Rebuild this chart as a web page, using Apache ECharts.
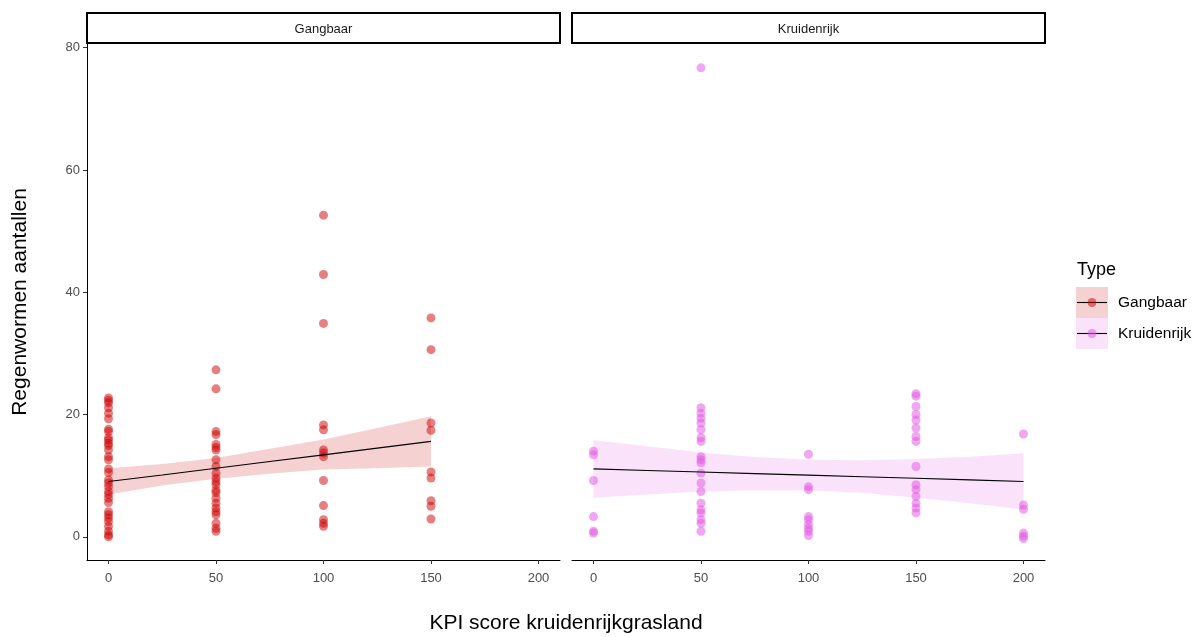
<!DOCTYPE html>
<html>
<head>
<meta charset="utf-8">
<script src="https://cdn.jsdelivr.net/npm/echarts@6/dist/echarts.min.js"></script>
<style>
  html, body { margin: 0; padding: 0; background: #ffffff; }
  #chart { width: 1203px; height: 637px; }
</style>
</head>
<body>
<div id="chart"></div>
<script>
// ---- data -------------------------------------------------------------
const kpiTicks = [0, 50, 100, 150, 200];
const countTicks = [0, 20, 40, 60, 80];

// Gangbaar: earthworm counts per KPI score
const gangbaarKpi0 = [22.7, 22.3, 21.9, 21.1, 20.2, 19.3, 17.6, 17.2, 16.2, 15.8, 15.3, 14.9, 14.2, 13.1, 12.6, 11.1,
                      10.5, 9.3, 8.8, 8.2, 7.4, 6.9, 6.3, 5.6, 4.1, 3.6, 3.1, 2.5, 1.7, 0.9, 0.3, 0.0];
const gangbaarKpi50 = [27.3, 24.2, 17.2, 16.7, 15.1, 14.6, 14.2, 12.6, 11.5, 10.4, 9.6, 9.0, 8.5, 7.6, 7.2, 6.3,
                       5.5, 4.7, 4.1, 3.6, 2.2, 1.4, 0.9];
const gangbaarKpi100 = [52.6, 42.9, 34.9, 18.3, 17.5, 14.2, 13.7, 13.1, 9.2, 5.1, 2.8, 2.2, 1.7];
const gangbaarKpi150 = [35.8, 30.6, 18.6, 17.4, 10.6, 9.6, 5.9, 5.0, 2.9];

// Kruidenrijk: earthworm counts per KPI score
const kruidenrijkKpi0 = [14.0, 13.4, 9.2, 3.3, 0.9, 0.6];
const kruidenrijkKpi50 = [76.7, 21.1, 20.2, 19.4, 18.6, 17.5, 16.2, 15.6, 13.1, 12.6, 12.1, 10.4, 8.8, 7.4, 5.5,
                          4.4, 3.9, 2.8, 2.2, 0.9];
const kruidenrijkKpi100 = [13.5, 8.2, 7.7, 3.3, 2.8, 2.0, 1.4, 0.9, 0.2];
const kruidenrijkKpi150 = [23.4, 23.0, 21.3, 20.0, 19.1, 17.8, 16.4, 15.6, 11.5, 8.5, 7.7, 6.6, 5.5, 4.7, 3.9];
const kruidenrijkKpi200 = [16.8, 5.2, 4.5, 0.6, 0.1, -0.3];

// Linear fits with 95% confidence band
const gangbaarFitX = [0, 25, 50, 75, 100, 125, 150];
const gangbaarFit = [9.05, 10.1, 11.2, 12.3, 13.4, 14.5, 15.6];
const gangbaarLower = [6.9, 8.4, 9.5, 10.3, 11.0, 11.2, 11.5];
const gangbaarUpper = [11.2, 11.9, 12.9, 14.4, 15.9, 17.8, 19.7];

const kruidenrijkFitX = [0, 25, 50, 75, 100, 125, 150, 175, 200];
const kruidenrijkFit = [11.1, 10.84, 10.59, 10.33, 10.08, 9.82, 9.56, 9.31, 9.05];
const kruidenrijkLower = [6.4, 6.9, 7.4, 7.6, 7.6, 7.2, 6.4, 5.5, 4.45];
const kruidenrijkUpper = [15.8, 14.8, 13.8, 13.05, 12.6, 12.5, 12.7, 13.1, 13.65];

// ---- styling ------------------------------------------------------------
const FONT = '"Liberation Sans", Arial, Helvetica, sans-serif';
const RED = '#CD0000';
const VIOLET = '#E35DE3';
const PANEL_TOP = 44, PANEL_H = 516, PANEL_W = 473;
const LEFT_X = 87, RIGHT_X = 572;

function pairs(kpi, values) {
  return values.map(v => [kpi, v]);
}

function scatter(idx, name, color, opacity, groups) {
  let data = [];
  groups.forEach(g => { data = data.concat(pairs(g[0], g[1])); });
  return {
    type: 'scatter', name: name, xAxisIndex: idx, yAxisIndex: idx,
    data: data, symbol: 'circle', symbolSize: 9, z: 2, silent: true,
    itemStyle: { color: color, opacity: opacity }
  };
}

function band(idx, xs, lo, hi, color) {
  return {
    type: 'custom', xAxisIndex: idx, yAxisIndex: idx, z: 3, silent: true,
    data: xs.map((x, i) => [x, lo[i], hi[i]]),
    encode: { x: 0, y: [1, 2] },
    renderItem: function (params, api) {
      if (params.dataIndex !== 0) return null;
      const top = xs.map((x, i) => api.coord([x, hi[i]]));
      const bottom = xs.map((x, i) => api.coord([x, lo[i]])).reverse();
      return {
        type: 'polygon',
        shape: { points: top.concat(bottom) },
        style: { fill: color, opacity: 0.18 }
      };
    }
  };
}

function fitLine(idx, xs, ys) {
  return {
    type: 'line', xAxisIndex: idx, yAxisIndex: idx, z: 4, silent: true,
    data: xs.map((x, i) => [x, ys[i]]),
    showSymbol: false, symbol: 'none',
    lineStyle: { color: '#000000', width: 1.1 }
  };
}

function xAxis(idx) {
  return {
    gridIndex: idx, type: 'value', min: -10, max: 210,
    splitLine: { show: false },
    axisLine: { show: true, onZero: false, lineStyle: { color: '#000000', width: 1 } },
    axisTick: { show: true, length: 4, customValues: kpiTicks, lineStyle: { color: '#333333' } },
    axisLabel: { customValues: kpiTicks, color: '#4D4D4D', fontSize: 13, margin: 12, fontFamily: FONT }
  };
}

const option = {
  animation: false,
  backgroundColor: '#ffffff',
  textStyle: { fontFamily: FONT },
  grid: [
    { left: LEFT_X, top: PANEL_TOP, width: PANEL_W, height: PANEL_H },
    { left: RIGHT_X, top: PANEL_TOP, width: PANEL_W, height: PANEL_H }
  ],
  xAxis: [xAxis(0), xAxis(1)],
  yAxis: [
    {
      gridIndex: 0, type: 'value', min: -3.8, max: 80.6,
      splitLine: { show: false },
      axisLine: { show: true, onZero: false, lineStyle: { color: '#000000', width: 1 } },
      axisTick: { show: true, length: 4, customValues: countTicks, lineStyle: { color: '#333333' } },
      axisLabel: { customValues: countTicks, color: '#4D4D4D', fontSize: 13, margin: 7, fontFamily: FONT },
      name: 'Regenwormen aantallen', nameLocation: 'middle', nameGap: 56,
      nameTextStyle: { color: '#000000', fontSize: 21, fontFamily: FONT }
    },
    {
      gridIndex: 1, type: 'value', min: -3.8, max: 80.6,
      axisLine: { show: false }, axisTick: { show: false },
      axisLabel: { show: false }, splitLine: { show: false }
    }
  ],
  series: [
    scatter(0, 'Gangbaar', RED, 0.5, [[0, gangbaarKpi0], [50, gangbaarKpi50], [100, gangbaarKpi100], [150, gangbaarKpi150]]),
    scatter(1, 'Kruidenrijk', VIOLET, 0.55, [[0, kruidenrijkKpi0], [50, kruidenrijkKpi50], [100, kruidenrijkKpi100],
                                             [150, kruidenrijkKpi150], [200, kruidenrijkKpi200]]),
    band(0, gangbaarFitX, gangbaarLower, gangbaarUpper, RED),
    band(1, kruidenrijkFitX, kruidenrijkLower, kruidenrijkUpper, VIOLET),
    fitLine(0, gangbaarFitX, gangbaarFit),
    fitLine(1, kruidenrijkFitX, kruidenrijkFit)
  ],
  graphic: [
    // facet strips
    { type: 'rect', shape: { x: LEFT_X, y: 13, width: PANEL_W, height: 30 },
      style: { fill: '#ffffff', stroke: '#000000', lineWidth: 2 } },
    { type: 'text', x: LEFT_X + PANEL_W / 2, y: 29,
      style: { text: 'Gangbaar', fill: '#1A1A1A', font: '13px ' + FONT, textAlign: 'center', textVerticalAlign: 'middle' } },
    { type: 'rect', shape: { x: RIGHT_X, y: 13, width: PANEL_W, height: 30 },
      style: { fill: '#ffffff', stroke: '#000000', lineWidth: 2 } },
    { type: 'text', x: RIGHT_X + PANEL_W / 2, y: 29,
      style: { text: 'Kruidenrijk', fill: '#1A1A1A', font: '13px ' + FONT, textAlign: 'center', textVerticalAlign: 'middle' } },
    // shared x-axis title
    { type: 'text', x: (LEFT_X + RIGHT_X + PANEL_W) / 2, y: 623,
      style: { text: 'KPI score kruidenrijkgrasland', fill: '#000000', font: '21px ' + FONT,
               textAlign: 'center', textVerticalAlign: 'middle' } },
    // legend
    { type: 'text', x: 1077, y: 270,
      style: { text: 'Type', fill: '#000000', font: '18px ' + FONT, textAlign: 'left', textVerticalAlign: 'middle' } },
    { type: 'rect', shape: { x: 1076, y: 287, width: 32, height: 31 }, style: { fill: RED, opacity: 0.18 } },
    { type: 'line', shape: { x1: 1077, y1: 302.5, x2: 1107, y2: 302.5 }, style: { stroke: '#000000', lineWidth: 1.1 } },
    { type: 'circle', shape: { cx: 1092, cy: 302.5, r: 4.5 }, style: { fill: RED, opacity: 0.5 } },
    { type: 'text', x: 1118, y: 303,
      style: { text: 'Gangbaar', fill: '#000000', font: '15.5px ' + FONT, textAlign: 'left', textVerticalAlign: 'middle' } },
    { type: 'rect', shape: { x: 1076, y: 318, width: 32, height: 31 }, style: { fill: VIOLET, opacity: 0.18 } },
    { type: 'line', shape: { x1: 1077, y1: 333.5, x2: 1107, y2: 333.5 }, style: { stroke: '#000000', lineWidth: 1.1 } },
    { type: 'circle', shape: { cx: 1092, cy: 333.5, r: 4.5 }, style: { fill: VIOLET, opacity: 0.55 } },
    { type: 'text', x: 1118, y: 334,
      style: { text: 'Kruidenrijk', fill: '#000000', font: '15.5px ' + FONT, textAlign: 'left', textVerticalAlign: 'middle' } }
  ]
};

const chart = echarts.init(document.getElementById('chart'), null, { renderer: 'canvas' });
chart.setOption(option);
</script>
</body>
</html>
